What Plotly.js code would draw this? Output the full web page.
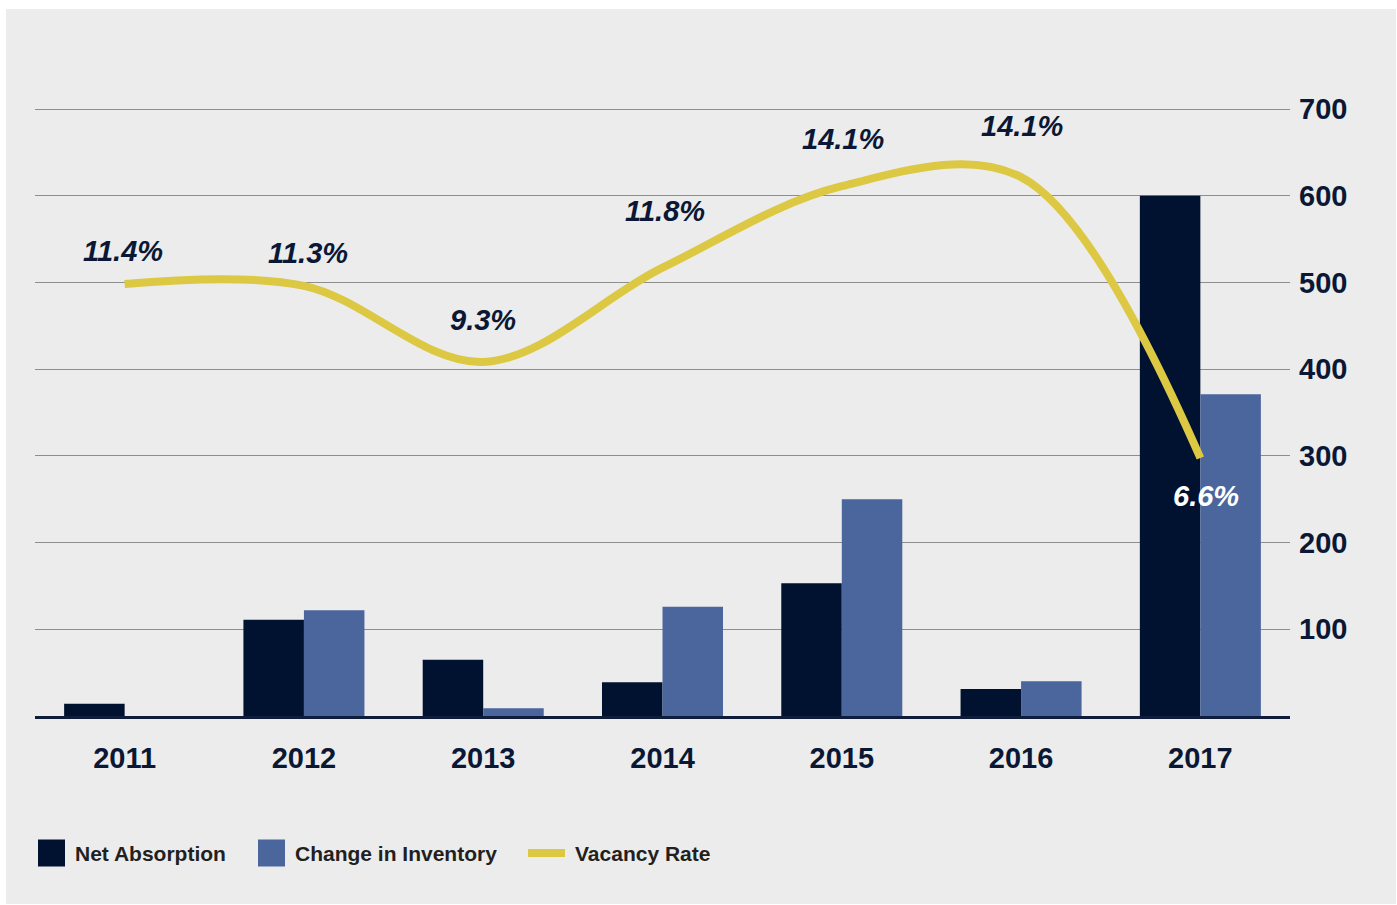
<!DOCTYPE html>
<html>
<head>
<meta charset="utf-8">
<script src="https://cdn.plot.ly/plotly-3.0.1.min.js"></script>
<style>
  html, body { margin: 0; padding: 0; background: #ffffff; }
  #chart { position: absolute; left: 6px; top: 9px; width: 1390px; height: 895px; }
</style>
</head>
<body>
<div id="chart"></div>
<script>
// ---- data ----
const years = ['2011', '2012', '2013', '2014', '2015', '2016', '2017'];
const netAbsorption = [14, 111, 65, 39, 153, 31, 600];
const changeInInventory = [0, 122, 9, 126, 250, 40, 371];
const vacancyRate = [11.4, 11.35, 9.25, 11.85, 14.1, 14.35, 6.6];
const vacancyLabels = ['11.4%', '11.3%', '9.3%', '11.8%', '14.1%', '14.1%', '6.6%'];
const yTicks = [100, 200, 300, 400, 500, 600, 700];

// ---- styling ----
const NAVY = '#00122f';
const BLUE = '#4a669c';
const YELLOW = '#dcc842';
const TEXT = '#0b1835';
const FONT = 'Liberation Sans, Arial, sans-serif';

// plot area in page pixels
const PX0 = 35, PX1 = 1290, PY0 = 716, PYTOP = 104;
const PX_PER_UNIT = 607 / 700;               // left-axis scale (700 at y=109)
const Y1MAX = (PY0 - PYTOP) / PX_PER_UNIT;    // a little above 700 so the 700 grid line shows
const Y2MIN = -0.517, Y2_PER_PX = (16.228 - Y2MIN) / 607;
const Y2MAX = Y2MIN + (PY0 - PYTOP) * Y2_PER_PX;

const px2paperX = p => (p - PX0) / (PX1 - PX0);
const px2paperY = p => (PY0 - p) / (PY0 - PYTOP);

const labelShift = [33, 33, 42, 57, 47, 51, -38];
const labelDx = [-2, 4, 0, 2, 1, 1, 6];
const labelColor = ['', '', '', '', '', '', '#ffffff'];

const traces = [
  { type: 'bar', name: 'Net Absorption', x: years, y: netAbsorption,
    marker: { color: NAVY }, hoverinfo: 'x+y' },
  { type: 'bar', name: 'Change in Inventory', x: years, y: changeInInventory,
    marker: { color: BLUE }, hoverinfo: 'x+y' },
  { type: 'scatter', mode: 'lines', name: 'Vacancy Rate', x: years, y: vacancyRate,
    yaxis: 'y2', line: { color: YELLOW, width: 8, shape: 'spline', smoothing: 1 } }
];

const annotations = years.map((yr, i) => ({
  x: i, y: vacancyRate[i], xref: 'x', yref: 'y2',
  text: '<b><i>' + vacancyLabels[i] + '</i></b>',
  showarrow: false, yshift: labelShift[i], xshift: labelDx[i],
  font: { family: FONT, size: 29, color: labelColor[i] || TEXT }
}));

// manual legend
const legendItems = [
  { name: 'Net Absorption', color: NAVY, kind: 'box', x0: 38, tx: 73 },
  { name: 'Change in Inventory', color: BLUE, kind: 'box', x0: 258, tx: 293 },
  { name: 'Vacancy Rate', color: YELLOW, kind: 'line', x0: 528, tx: 573 }
];
const shapes = [];
const LY = 853;
legendItems.forEach(it => {
  if (it.kind === 'box') {
    shapes.push({ type: 'rect', xref: 'paper', yref: 'paper',
      x0: px2paperX(it.x0), x1: px2paperX(it.x0 + 27),
      y0: px2paperY(LY - 13.5), y1: px2paperY(LY + 13.5),
      fillcolor: it.color, line: { width: 0 } });
  } else {
    shapes.push({ type: 'line', xref: 'paper', yref: 'paper',
      x0: px2paperX(it.x0), x1: px2paperX(it.x0 + 37),
      y0: px2paperY(LY), y1: px2paperY(LY),
      line: { color: it.color, width: 8 } });
  }
  annotations.push({ xref: 'paper', yref: 'paper', x: px2paperX(it.tx), y: px2paperY(LY),
    xanchor: 'left', yanchor: 'middle', showarrow: false,
    text: '<b>' + it.name + '</b>', font: { family: FONT, size: 21, color: '#231f20' } });
});

const layout = {
  width: 1390, height: 895,
  margin: { l: PX0 - 6, r: 1390 - (PX1 - 6), t: PYTOP - 9, b: 895 - (PY0 - 9), pad: 0 },
  paper_bgcolor: '#ececec', plot_bgcolor: '#ececec',
  showlegend: false,
  barmode: 'group', bargap: 0.325, bargroupgap: 0,
  font: { family: FONT, color: TEXT },
  xaxis: {
    type: 'category', range: [-0.5, 6.5], autorange: false,
    showgrid: false, zeroline: false,
    showline: true, linecolor: '#0f1c3a', linewidth: 3,
    ticks: '', ticklabelstandoff: 14,
    tickfont: { family: FONT, size: 29, color: TEXT, weight: 'bold' }
  },
  yaxis: {
    range: [0, Y1MAX], autorange: false, side: 'right', tickvals: yTicks,
    showgrid: true, gridcolor: '#8e8e8e', gridwidth: 1,
    zeroline: false, showline: false, ticks: '',
    ticklabelstandoff: 8,
    tickfont: { family: FONT, size: 29, color: TEXT, weight: 'bold' }
  },
  yaxis2: {
    overlaying: 'y', side: 'right', range: [Y2MIN, Y2MAX], autorange: false,
    visible: false, showgrid: false, zeroline: false
  },
  annotations: annotations,
  shapes: shapes
};

Plotly.newPlot('chart', traces, layout, { displayModeBar: false, staticPlot: true });
</script>
</body>
</html>
